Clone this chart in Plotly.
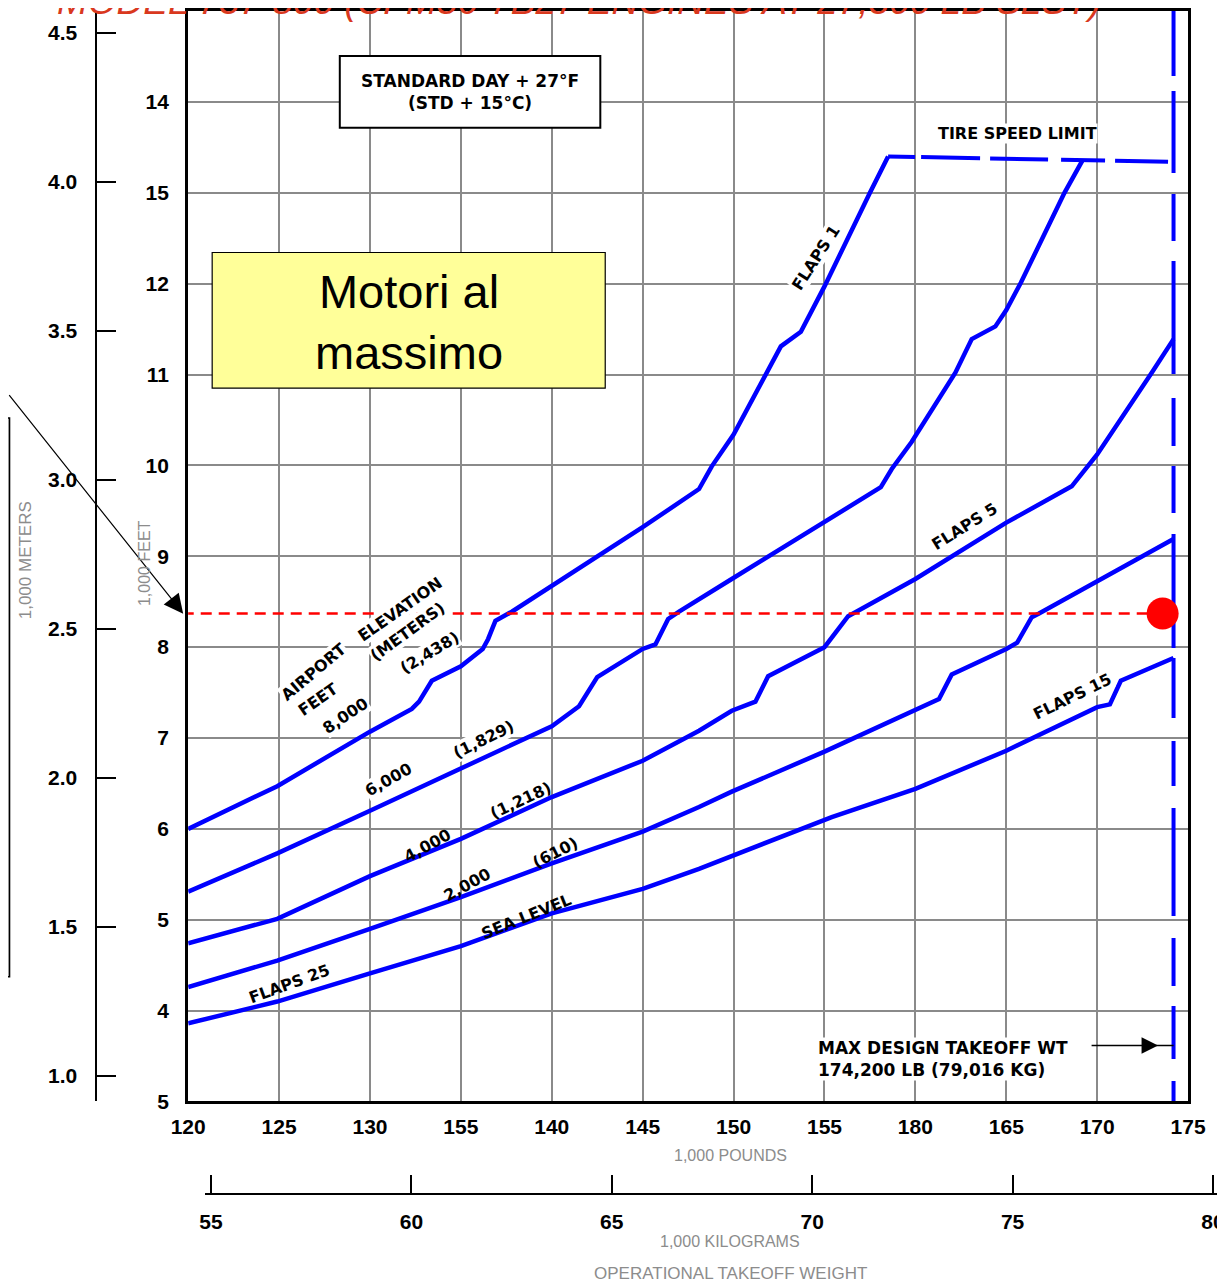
import plotly.graph_objects as go

# ---------------- data ----------------
lb_tickvals = [120, 125, 130, 135, 140, 145, 150, 155, 160, 165, 170, 175]
lb_ticktext = ["120", "125", "130", "155", "140", "145", "150", "155", "180", "165", "170", "175"]
ft_tickvals = [3, 4, 5, 6, 7, 8, 9, 10, 11, 12, 13, 14, 15]
ft_ticktext = ["5", "4", "5", "6", "7", "8", "9", "10", "11", "12", "15", "14", "15"]
m_tickvals = [1.0, 1.5, 2.0, 2.5, 3.0, 3.5, 4.0, 4.5]
m_ticktext = ["1.0", "1.5", "2.0", "2.5", "3.0", "3.5", "4.0", "4.5"]
kg_tickvals = [55, 60, 65, 70, 75, 80]
kg_ticktext = ["55", "60", "65", "70", "75", "80"]

# runway length (1000 ft) vs operational takeoff weight (1000 lb), per airport elevation
sea_level_x = [120, 124.9, 130, 135, 140, 145, 148.1, 155.4, 160, 165, 170, 170.7, 171.3, 172.1, 174.2]
sea_level_y = [3.86, 4.10, 4.41, 4.71, 5.07, 5.34, 5.56, 6.13, 6.44, 6.86, 7.34, 7.37, 7.63, 7.70, 7.88]

elev2000_x = [120, 124.9, 130, 135, 140, 145, 148.1, 149.9, 155, 160, 161.3, 162, 165, 165.6, 166.4, 166.8, 170, 174.2]
elev2000_y = [4.26, 4.55, 4.90, 5.25, 5.62, 5.97, 6.24, 6.41, 6.85, 7.30, 7.43, 7.70, 7.98, 8.05, 8.33, 8.37, 8.73, 9.19]

elev4000_x = [120, 124.9, 130, 135, 140, 145, 148.1, 149.9, 151.2, 151.9, 155, 156.3, 160, 165, 168.6, 169.5, 170, 173, 174.2]
elev4000_y = [4.74, 5.01, 5.48, 5.89, 6.35, 6.75, 7.08, 7.30, 7.40, 7.68, 8.00, 8.34, 8.75, 9.37, 9.77, 9.99, 10.12, 11.02, 11.39]

elev6000_x = [120, 124.9, 130, 135, 140, 141.5, 142.5, 145, 145.7, 146.4, 147, 149.9, 155, 158.1, 158.7, 159.8, 162.2, 163.1, 164.4, 165, 165.8, 168.2, 169.2]
elev6000_y = [5.31, 5.73, 6.20, 6.66, 7.13, 7.35, 7.67, 7.98, 8.03, 8.31, 8.39, 8.75, 9.37, 9.76, 9.96, 10.26, 11.02, 11.39, 11.53, 11.71, 12.01, 13.0, 13.36]

elev8000_x = [120, 124.9, 130, 132.3, 132.7, 133.4, 135, 136.2, 136.5, 136.9, 137.8, 140, 142.6, 145, 148.1, 148.8, 150, 151.8, 152.6, 153.7, 155, 157.5, 158.5]
elev8000_y = [6.00, 6.47, 7.07, 7.32, 7.40, 7.63, 7.79, 7.98, 8.09, 8.29, 8.39, 8.67, 9.00, 9.32, 9.74, 9.99, 10.34, 11.02, 11.31, 11.47, 11.97, 13.0, 13.40]

tire_limit_x = [158.5, 169.2, 174.2]
tire_limit_y = [13.40, 13.36, 13.34]

max_design_wt = [174.2, 174.2]
max_design_span = [15, 3]

op_line_x = [119.7, 173.6]
op_line_y = [8.37, 8.37]
op_point_x = [173.6]
op_point_y = [8.37]

FT_PER_M = 3.28084
LB_PER_KG = 2.20462

# ---------------- layout geometry ----------------
# calibration between figure pixels and the photographed page
SX, SY, OFF = 0.9871, 0.993, 8


def fx(p):
    return p / SX - OFF


def fy(p):
    return p / SY - OFF


W = round(fx(1225))
H = round(fy(1284))
ML, MR, MT, MB = 30, 0, 2, 0


def PX(px):  # photo pixel -> paper x
    return (fx(px) - ML) / (W - ML - MR)


def PY(py):  # photo pixel -> paper y
    return (H - MB - fy(py)) / (H - MT - MB)


X_LEFT, X_RIGHT = 188, 1190
Y_TOP, Y_BOT = 10, 1103
x_range = [120, 175]
y_range = [3, 15]
lb_per_px = (x_range[1] - x_range[0]) / (X_RIGHT - X_LEFT)
kg_lo = (x_range[0] + (205 - X_LEFT) * lb_per_px) / LB_PER_KG
kg_hi = (x_range[0] + ((W + OFF) * SX - X_LEFT) * lb_per_px) / LB_PER_KG

BLUE = "#0000FF"
SANS = "Liberation Sans, Arial, sans-serif"
WIDE = "DejaVu Sans, Verdana, sans-serif"
TICKFONT = dict(family=SANS, size=21, color="black", weight="bold")
LBLFONT = dict(family=WIDE, size=16, color="black", weight="bold")
GRAYFONT = dict(family=SANS, size=16, color="#8c8c8c")

TIRE_DASH = "27px,6px,59px,10px,58px,13px,44px,10px,53px,10px"
MAXWT_DASH = ("65px,15px,82px,21px,47px,20px,113px,24px,48px,20px,47px,21px,114px,10px,"
              "60px,23px,45px,22px,108px,22px,48px,20px,53px,22px,30px,10px")

fig = go.Figure()

curves = [
    ("SEA LEVEL", sea_level_x, sea_level_y),
    ("2,000 FT", elev2000_x, elev2000_y),
    ("4,000 FT", elev4000_x, elev4000_y),
    ("6,000 FT", elev6000_x, elev6000_y),
    ("8,000 FT", elev8000_x, elev8000_y),
]
for name, xs, ys in curves:
    fig.add_trace(go.Scatter(x=xs, y=ys, mode="lines", name=name,
                             line=dict(color=BLUE, width=4.5), showlegend=False))

fig.add_trace(go.Scatter(x=tire_limit_x, y=tire_limit_y, mode="lines", showlegend=False,
                         line=dict(color=BLUE, width=4, dash=TIRE_DASH)))
fig.add_trace(go.Scatter(x=max_design_wt, y=max_design_span, mode="lines", showlegend=False,
                         line=dict(color=BLUE, width=4, dash=MAXWT_DASH)))
fig.add_trace(go.Scatter(x=op_line_x, y=op_line_y, mode="lines", showlegend=False,
                         line=dict(color="#FF0000", width=2.5, dash="11px,7px")))
fig.add_trace(go.Scatter(x=op_point_x, y=op_point_y, mode="markers", showlegend=False,
                         marker=dict(color="#FF0000", size=32), cliponaxis=False))

# dummy traces so the secondary scales (meters, kilograms) are drawn
fig.add_trace(go.Scatter(x=[x_range[0]], y=[y_range[0] / FT_PER_M], yaxis="y2", mode="markers",
                         marker=dict(opacity=0), showlegend=False, hoverinfo="skip"))
fig.add_trace(go.Scatter(x=[kg_lo], y=[0], xaxis="x2", yaxis="y3", mode="markers",
                         marker=dict(opacity=0), showlegend=False, hoverinfo="skip"))

fig.update_layout(
    width=W, height=H, autosize=False,
    margin=dict(l=ML, r=MR, t=MT, b=MB),
    paper_bgcolor="white", plot_bgcolor="rgba(0,0,0,0)",
    showlegend=False,
    xaxis=dict(domain=[PX(X_LEFT), PX(X_RIGHT)], range=x_range, tickvals=lb_tickvals,
               ticktext=lb_ticktext, showgrid=True, gridcolor="#8a8a8a", gridwidth=2,
               showline=True, mirror=True, linecolor="black", linewidth=3, ticks="",
               tickfont=TICKFONT, ticklabelstandoff=4, zeroline=False, anchor="y"),
    yaxis=dict(domain=[PY(Y_BOT), PY(Y_TOP)], range=y_range, tickvals=ft_tickvals,
               ticktext=ft_ticktext, showgrid=True, gridcolor="#8a8a8a", gridwidth=2,
               showline=True, mirror=True, linecolor="black", linewidth=3, ticks="",
               tickfont=TICKFONT, ticklabelstandoff=12, zeroline=False, anchor="x"),
    yaxis2=dict(overlaying="y", anchor="free", position=PX(96), side="left",
                range=[y_range[0] / FT_PER_M, y_range[1] / FT_PER_M],
                tickvals=m_tickvals, ticktext=m_ticktext, showgrid=False, zeroline=False,
                showline=True, linecolor="black", linewidth=2, ticks="inside", ticklen=19,
                tickwidth=2, tickcolor="black", tickfont=TICKFONT, ticklabelstandoff=14),
    xaxis2=dict(domain=[PX(205), 1.0], anchor="free", position=PY(1196), side="bottom",
                range=[kg_lo, kg_hi], tickvals=kg_tickvals, ticktext=kg_ticktext,
                showgrid=False, zeroline=False, showline=True, linecolor="black", linewidth=2,
                ticks="inside", ticklen=18, tickwidth=2, tickcolor="black",
                tickfont=TICKFONT, ticklabelstandoff=9),
    yaxis3=dict(domain=[PY(Y_BOT), PY(Y_TOP)], anchor="x2", visible=False, range=[0, 1]),
)

shapes = []
# Standard day box
shapes.append(dict(type="rect", xref="x", yref="y", x0=128.34, x1=142.67, y0=13.716, y1=14.506,
                   fillcolor="white", line=dict(color="black", width=2), layer="above"))
# yellow box
shapes.append(dict(type="rect", xref="x", yref="y", x0=121.32, x1=142.94, y0=10.85, y1=12.343,
                   fillcolor="#FFFF99", line=dict(color="black", width=1.2), layer="above"))
# grey box at the far left
shapes.append(dict(type="rect", xref="paper", yref="paper", x0=PX(-6), x1=PX(9), y0=PY(978), y1=PY(418),
                   fillcolor="#c0c0c0", line=dict(color="black", width=1.5), layer="above"))
# max takeoff weight pointer stub
shapes.append(dict(type="line", xref="x", yref="y", x0=173.2, x1=174.2, y0=3.615, y1=3.615,
                   line=dict(color="black", width=1.5)))
fig.update_layout(shapes=shapes)

ann = []


def lbl(text, x, y, angle=0, bg=None, font=LBLFONT, **kw):
    d = dict(text=text, x=x, y=y, xref="x", yref="y", showarrow=False, textangle=angle,
             font=font, xanchor="center", yanchor="middle", borderpad=0)
    if bg:
        d["bgcolor"] = bg
    d.update(kw)
    ann.append(d)


lbl("AIRPORT", 126.92, 7.732, -40, "white")
lbl("ELEVATION", 131.64, 8.413, -35, "white")
lbl("FEET", 127.14, 7.425, -35, "white")
lbl("(METERS)", 132.08, 8.171, -36, "white")
lbl("8,000", 128.67, 7.249, -34, "white")
lbl("(2,438)", 133.28, 7.941, -31, "white")
lbl("6,000", 131.03, 6.546, -29, "white")
lbl("(1,829)", 136.25, 6.985, -26, "white")
lbl("4,000", 133.17, 5.822, -29)
lbl("(1,218)", 138.28, 6.316, -25)
lbl("2,000", 135.37, 5.383, -29)
lbl("(610)", 140.2, 5.745, -27)
lbl("SEA LEVEL", 138.61, 5.031, -22)
lbl("FLAPS 25", 125.6, 4.296, -20)
lbl("FLAPS 15", 168.63, 7.458, -26, "white")
lbl("FLAPS 5", 162.7, 9.324, -32)
lbl("FLAPS 1", 154.53, 12.288, -57, "white")
lbl("TIRE SPEED LIMIT", 165.61, 13.65, 0, "white",
    font=dict(family=WIDE, size=16, color="black", weight="bold"))
lbl("STANDARD DAY + 27°F<br>(STD + 15°C)", 135.48, 14.111, 0,
    font=dict(family=WIDE, size=17, color="black", weight="bold"))
lbl("Motori al<br>massimo", 132.13, 11.58, 0,
    font=dict(family=SANS, size=47, color="black"))
lbl("MAX DESIGN TAKEOFF WT<br>174,200 LB (79,016 KG)", 154.58, 3.472, 0, "white",
    font=dict(family=WIDE, size=17, color="black", weight="bold"),
    xanchor="left", align="left")

# arrow to max design weight line
ann.append(dict(x=173.35, y=3.615, xref="x", yref="y", ax=-68, ay=0, axref="pixel", ayref="pixel",
                text="", showarrow=True, arrowhead=2, arrowsize=2.2, arrowwidth=1.5, arrowcolor="black"))
# long black arrow from the left edge to the feet scale
ann.append(dict(x=PX(183), y=PY(614), xref="paper", yref="paper", ax=-190, ay=-220,
                axref="pixel", ayref="pixel", text="", showarrow=True, arrowhead=2,
                arrowsize=3.2, arrowwidth=1.2, arrowcolor="black"))


def pann(text, px, py, font=GRAYFONT, angle=0, **kw):
    d = dict(text=text, x=PX(px), y=PY(py), xref="paper", yref="paper", showarrow=False,
             textangle=angle, font=font, xanchor="center", yanchor="middle")
    d.update(kw)
    ann.append(d)


pann("1,000 POUNDS", 731, 1157)
pann("1,000 KILOGRAMS", 731, 1243)
pann("OPERATIONAL TAKEOFF WEIGHT", 731, 1275, font=dict(family=SANS, size=17, color="#8c8c8c"))
pann("1,000 FEET", 144, 563, angle=-90)
pann("1,000 METERS", 25, 561, angle=-90, font=dict(family=SANS, size=17, color="#8c8c8c"))
pann("MODEL 737-800 (CFM56-7B27 ENGINES AT 27,300 LB SLST)", 1105, 0,
     font=dict(family=SANS, size=37, color="#D9381E", style="italic"),
     xanchor="right")

fig.update_layout(annotations=ann)
fig.write_html("out.html")
